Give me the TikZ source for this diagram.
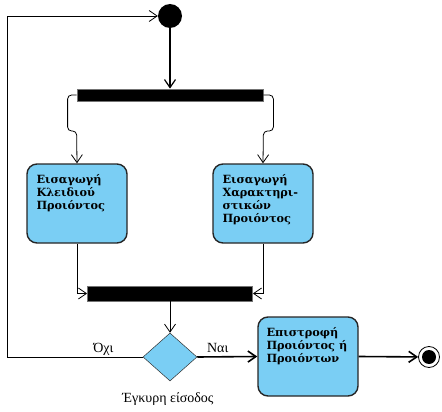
\documentclass[tikz,border=0pt]{standalone}
\usepackage{fontspec}
\setmainfont{Liberation Serif}
\newfontfamily\actfont{DejaVu Serif}
\usetikzlibrary{arrows.meta,shapes.geometric,positioning}
\definecolor{actblue}{RGB}{122,206,244}

\begin{document}
\begin{tikzpicture}[x=1pt,y=-1pt]
    \tikzstyle{act}=[draw=black!85, line width=1.4pt, fill=actblue, rounded corners=10pt, minimum width=100pt, minimum height=79pt]
    \tikzstyle{acttext}=[anchor=north west, align=left, inner sep=0pt, font=\actfont\fontsize{11.3}{13}\selectfont\bfseries]
    \tikzstyle{bar}=[fill=black, draw=black!55, line width=0.8pt, minimum height=12pt, inner sep=0pt]
    \tikzstyle{flow}=[-{Straight Barb[length=8pt,width=11pt]}, line width=0.8pt]
    \tikzstyle{mainflow}=[flow, line width=1.6pt]
    \tikzstyle{guard}=[font=\fontsize{14}{16}\selectfont, inner sep=1pt]
    \useasboundingbox (0,0) rectangle (442,412);

    % start and fork
    \node[circle, fill=black, minimum size=24pt, inner sep=0pt] (start) at (170,16) {};
    \node[bar, minimum width=186pt] (fork) at (170,95) {};

    % the two activities
    \node[act] (keybox) at (77,203.5) {};
    \node[acttext] (keytext) at ([shift={(10,11)}]keybox.north west) {Εισαγωγή\\Κλειδιού\\Προιόντος};
    \node[act] (attrbox) at (263,203.5) {};
    \node[acttext] (attrtext) at ([shift={(10,11)}]attrbox.north west) {Εισαγωγή\\Χαρακτηρι-\\στικών\\Προιόντος};

    % join, decision, return
    \node[bar, minimum width=165pt, minimum height=15pt] (join) at (170,293.5) {};
    \node[diamond, draw=black!80, fill=actblue, line width=0.5pt, minimum width=54pt, minimum height=48pt, inner sep=0pt] (check) at (170,357) {};
    \node[guard, anchor=base] (validin) at ([shift={(-2,45)}]check) {Έγκυρη είσοδος};
    \node[act] (retbox) at (308,356.5) {};
    \node[acttext] (rettext) at ([shift={(9,11)}]retbox.north west) {Επιστροφή\\Προιόντος ή\\Προιόντων};
    \node[circle, draw=black, line width=0.8pt, fill=white, minimum size=21pt, inner sep=0pt] (final) at (429,357) {};
    \node[circle, fill=black, minimum size=14pt, inner sep=0pt] (finaldot) at (final) {};
    \coordinate (loopcorner) at (7,357);

    % connectors
    \draw[flow, line width=1.2pt] (start) -- (fork);
    \draw[flow, rounded corners=4pt] (fork.west) -- ++(-9,0) -- ++(0,36) -- ++(9,0) -- (keybox.north);
    \draw[flow, rounded corners=4pt] (fork.east) -- ++(10,0) -- ++(0,36) -- ++(-10,0) -- (attrbox.north);
    \draw[flow] (keybox.south) |- (join.west);
    \draw[flow] (attrbox.south) |- (join.east);
    \draw[flow] (join) -- (check);
    \draw[mainflow] (check.east) -- node[guard, above, text depth=0pt, inner sep=4pt, pos=0.34] (yes) {Ναι} (retbox.west);
    \draw[mainflow] (retbox.east) -- (final);
    \draw[flow] (check.west) -- node[guard, above, text depth=0pt, inner sep=4pt, pos=0.29] (no) {Όχι} (loopcorner) |- (start.west);
\end{tikzpicture}
\end{document}
